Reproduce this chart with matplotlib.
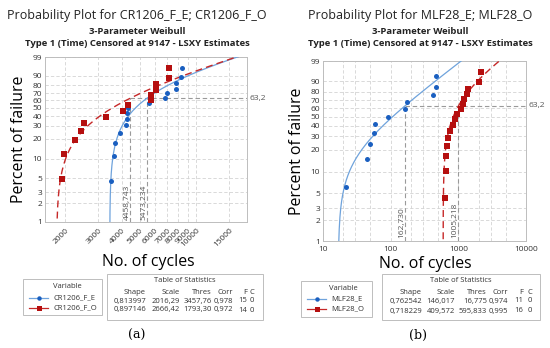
"""Weibull probability plots (a) CR1206 and (b) MLF28, Minitab style."""
import numpy as np
import matplotlib
matplotlib.use("Agg")
import matplotlib.pyplot as plt
from matplotlib.lines import Line2D
from matplotlib.patches import Rectangle
from matplotlib.ticker import FixedLocator, NullFormatter, NullLocator

plt.rcParams["font.family"] = ["Open Sans", "DejaVu Sans"]

W, H = 550, 348

# ---- data ----
PCT_TICKS = [1, 2, 3, 5, 10, 20, 30, 40, 50, 60, 70, 80, 90, 99]

A_E_CYCLES = [3520, 3665, 3710, 3930, 4215, 4290, 4300, 4310, 5615, 6830, 6980, 7790, 7800, 8290, 8390]
A_E_PCT = [4.5, 11.0, 17.5, 24.0, 30.5, 37.0, 43.5, 50.0, 56.5, 63.0, 69.5, 76.0, 82.5, 89.0, 95.5]
A_O_CYCLES = [1920, 1960, 2260, 2435, 2525, 3320, 4080, 4355, 5750, 5760, 6095, 6100, 7200, 7210]
A_O_PCT = [4.9, 11.8, 18.8, 25.7, 32.6, 39.6, 46.5, 53.5, 60.4, 67.4, 74.3, 81.3, 88.2, 95.1]
A_SHAPE = [0.813997, 0.897146]
A_SCALE = [2016.29, 2666.42]
A_THRES = [3457.76, 1793.30]
A_REF = [4458.743, 5473.234]
A_REF_LABELS = ["4458,743", "5473,234"]
A_XTICKS = [2000, 3000, 4000, 5000, 6000, 7000, 8000, 9000, 10000, 15000]
A_NAMES = ["CR1206_F_E", "CR1206_F_O"]
A_TABLE = [["0,813997", "2016,29", "3457,76", "0,978", "15", "0"],
           ["0,897146", "2666,42", "1793,30", "0,972", "14", "0"]]

B_E_CYCLES = [21.9, 44.3, 49.6, 57.4, 59.4, 91.5, 163, 177, 428, 469, 470]
B_E_PCT = [6.1, 14.9, 23.7, 32.5, 41.2, 50.0, 58.8, 67.5, 76.3, 85.1, 93.9]
B_O_CYCLES = [638, 653, 655, 690, 699, 756, 829, 897, 950, 1089, 1190, 1218, 1336, 1411, 2031, 2175]
B_O_PCT = [4.3, 10.4, 16.5, 22.6, 28.7, 34.8, 40.9, 47.0, 53.0, 59.1, 65.2, 71.3, 77.4, 83.5, 89.6, 95.7]
B_SHAPE = [0.762542, 0.718229]
B_SCALE = [146.017, 409.572]
B_THRES = [16.775, 595.833]
B_REF = [162.730, 1005.218]
B_REF_LABELS = ["162,730", "1005,218"]
B_XTICKS = [10, 100, 1000, 10000]
B_XGRID = [20, 30, 50, 200, 300, 500, 2000, 3000, 5000]
B_NAMES = ["MLF28_E", "MLF28_O"]
B_TABLE = [["0,762542", "146,017", "16,775", "0,974", "11", "0"],
           ["0,718229", "409,572", "595,833", "0,995", "16", "0"]]

HEADERS = ["Shape", "Scale", "Thres", "Corr", "F", "C"]

BLUE_MK = "#1A5FC0"
BLUE_LN = "#6FA3DC"
RED_MK = "#B50F0F"
RED_LN = "#C62828"
GRID = "#D3D3D3"
REF = "#9A9A9A"
TXT = "#333333"


def px(x, y):
    return x / W, 1 - y / H


def weib_fwd(p):
    p = np.clip(np.asarray(p, dtype=float), 1e-6, 100 - 1e-6) / 100.0
    return np.log(-np.log(1 - p))


def weib_inv(y):
    return 100.0 * (1 - np.exp(-np.exp(np.asarray(y, dtype=float))))


def fit_curve(shape, scale, thres):
    p = np.linspace(0.005, 0.995, 400)
    return thres + scale * (-np.log(1 - p)) ** (1 / shape), p * 100


def draw_panel(fig, rect, xlim, xticks, xgrid, rotate, e_data, o_data, params, refs, ref_labels):
    ax = fig.add_axes(rect)
    ax.set_xscale("log")
    ax.set_yscale("function", functions=(weib_fwd, weib_inv))
    ax.set_xlim(*xlim)
    ax.set_ylim(1, 99)

    ax.yaxis.set_major_locator(FixedLocator(PCT_TICKS))
    ax.set_yticklabels([str(v) for v in PCT_TICKS])
    ax.yaxis.set_minor_locator(NullLocator())
    ax.xaxis.set_major_locator(FixedLocator(xticks))
    ax.xaxis.set_minor_locator(FixedLocator(xgrid))
    ax.xaxis.set_minor_formatter(NullFormatter())
    ax.set_xticklabels([str(v) for v in xticks])
    ax.tick_params(which="both", length=0, labelsize=6, colors=TXT, pad=2)
    ax.tick_params(axis="x", which="major", pad=3.5)
    if rotate:
        for lab in ax.get_xticklabels():
            lab.set_rotation(45)
            lab.set_ha("right")
            lab.set_rotation_mode("anchor")

    ax.grid(True, which="both", ls=(0, (4, 2.5)), color=GRID, lw=0.6)
    ax.set_axisbelow(True)
    for sp in ax.spines.values():
        sp.set_color("#BDBDBD")
        sp.set_linewidth(0.7)

    # fitted distributions from table parameters
    (shape_e, shape_o), (scale_e, scale_o), (thres_e, thres_o) = params
    tx, ty = fit_curve(shape_e, scale_e, thres_e)
    ax.plot(tx, ty, color=BLUE_LN, lw=0.9, zorder=3)
    tx, ty = fit_curve(shape_o, scale_o, thres_o)
    ax.plot(tx, ty, color=RED_LN, lw=1.0, ls=(0, (5, 3)), zorder=3)

    # 63.2 % reference lines
    ax.plot([min(refs), xlim[1]], [63.2, 63.2], color=REF, lw=0.8, ls=(0, (4, 2.5)), zorder=2)
    for r, lab in zip(refs, ref_labels):
        ax.plot([r, r], [1, 63.2], color=REF, lw=0.8, ls=(0, (4, 2.5)), zorder=2)
        ax.text(r, 0.015, lab, rotation=90, ha="right", va="bottom", fontsize=6, color="#555555",
                transform=ax.get_xaxis_transform())
    ax.text(1.012, 63.2, "63,2", ha="left", va="center", fontsize=6, color="#555555",
            transform=ax.get_yaxis_transform())

    ax.plot(e_data[0], e_data[1], "o", color=BLUE_MK, ms=3.6, mew=0, zorder=4)
    ax.plot(o_data[0], o_data[1], "s", color=RED_MK, ms=4.2, mew=0, zorder=4)
    return ax


def draw_legend(fig, box, names, title_xy, rows_y):
    x0, y0, x1, y1 = box
    fig.patches.append(Rectangle(px(x0, y1), (x1 - x0) / W, (y1 - y0) / H, transform=fig.transFigure,
                                 fill=False, ec="#BDBDBD", lw=0.7))
    fig.text(*px(*title_xy), "Variable", ha="center", va="center", fontsize=5.5, color=TXT)
    styles = [(BLUE_LN, "o", BLUE_MK, 3.2), (RED_LN, "s", RED_MK, 3.6)]
    for name, y, (lc, mk, mc, ms) in zip(names, rows_y, styles):
        xa, ya = px(x0 + 6, y)
        xb, _ = px(x0 + 25, y)
        fig.add_artist(Line2D([xa, xb], [ya, ya], color=lc, lw=0.9, transform=fig.transFigure))
        fig.add_artist(Line2D([(xa + xb) / 2], [ya], marker=mk, color=mc, ms=ms, mew=0,
                              transform=fig.transFigure))
        fig.text(*px(x0 + 30, y), name, ha="left", va="center", fontsize=5.5, color=TXT)


def draw_table(fig, box, col_right, rows, title_y, head_y, rows_y):
    x0, y0, x1, y1 = box
    fig.patches.append(Rectangle(px(x0, y1), (x1 - x0) / W, (y1 - y0) / H, transform=fig.transFigure,
                                 fill=False, ec="#BDBDBD", lw=0.7))
    fig.text(*px((x0 + x1) / 2, title_y), "Table of Statistics", ha="center", va="center",
             fontsize=5.5, color=TXT)
    for xr, head in zip(col_right, HEADERS):
        fig.text(*px(xr, head_y), head, ha="right", va="center", fontsize=5.5, color=TXT)
    for row, y in zip(rows, rows_y):
        for xr, val in zip(col_right, row):
            fig.text(*px(xr, y), val, ha="right", va="center", fontsize=5.5, color=TXT)


fig = plt.figure(figsize=(W / 100, H / 100), dpi=100)

# ---- panel (a) ----
rect_a = [45 / W, (H - 222) / H, (247 - 45) / W, (222 - 57) / H]
ax_a = draw_panel(fig, rect_a, (1560, 18700), A_XTICKS, [], True,
                  (A_E_CYCLES, A_E_PCT), (A_O_CYCLES, A_O_PCT),
                  (A_SHAPE, A_SCALE, A_THRES), A_REF, A_REF_LABELS)
fig.text(*px(137, 16), "Probability Plot for CR1206_F_E; CR1206_F_O", ha="center", va="center",
         fontsize=9, color="#222222")
fig.text(*px(137, 31), "3-Parameter Weibull", ha="center", va="center", fontsize=6.8,
         fontweight="bold", color="#222222")
fig.text(*px(137, 44), "Type 1 (Time) Censored at 9147 - LSXY Estimates", ha="center", va="center",
         fontsize=6.8, fontweight="bold", color="#222222")
fig.text(*px(19, 139), "Percent of failure", rotation=90, ha="center", va="center", fontsize=11.4)
fig.text(*px(148, 262), "No. of cycles", ha="center", va="center", fontsize=11.4)
draw_legend(fig, (23, 279, 102, 315), A_NAMES, (67, 287), (298, 308))
draw_table(fig, (107, 274, 263, 320), [146, 180, 212, 233, 247, 254], A_TABLE, 281, 292, (301, 310))
fig.text(*px(137, 335), "(a)", ha="center", va="center", fontsize=9, family="DejaVu Serif")

# ---- panel (b) ----
rect_b = [323 / W, (H - 241) / H, (526 - 323) / W, (241 - 61) / H]
ax_b = draw_panel(fig, rect_b, (10, 10000), B_XTICKS, B_XGRID, False,
                  (B_E_CYCLES, B_E_PCT), (B_O_CYCLES, B_O_PCT),
                  (B_SHAPE, B_SCALE, B_THRES), B_REF, B_REF_LABELS)
fig.text(*px(420, 16), "Probability Plot for MLF28_E; MLF28_O", ha="center", va="center",
         fontsize=9, color="#222222")
fig.text(*px(420, 31), "3-Parameter Weibull", ha="center", va="center", fontsize=6.8,
         fontweight="bold", color="#222222")
fig.text(*px(420, 44), "Type 1 (Time) Censored at 9147 - LSXY Estimates", ha="center", va="center",
         fontsize=6.8, fontweight="bold", color="#222222")
fig.text(*px(297, 151), "Percent of failure", rotation=90, ha="center", va="center", fontsize=11.4)
fig.text(*px(425, 264), "No. of cycles", ha="center", va="center", fontsize=11.4)
draw_legend(fig, (301, 281, 372, 317), B_NAMES, (343, 288), (299, 309))
draw_table(fig, (382, 274, 540, 320), [422, 455, 487, 508, 523, 532], B_TABLE, 281, 292, (301, 311))
fig.text(*px(418, 335), "(b)", ha="center", va="center", fontsize=9, family="DejaVu Serif")

fig.savefig("out.png", dpi=100)
